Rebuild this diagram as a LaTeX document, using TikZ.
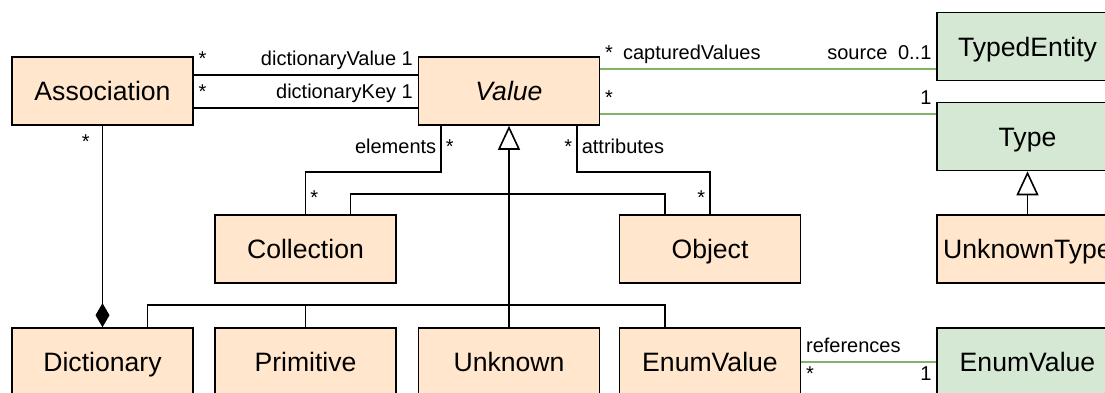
\documentclass[tikz,border=0pt]{standalone}
\usepackage{fontspec}
\setmainfont{Liberation Sans}
\usetikzlibrary{arrows.meta,calc}
\definecolor{class-fill}{HTML}{FFE6CC}
\definecolor{ext-fill}{HTML}{D5E8D4}
\definecolor{ext-line}{HTML}{82B366}
\tikzset{
    class-box/.style = {draw=black, fill=class-fill, line width=0.8pt, rectangle, minimum width=90.5pt, minimum height=34pt, inner sep=0pt, text height=9.6pt, text depth=0pt, font=\fontsize{13.3}{16}\selectfont},
    ext-box/.style = {class-box, fill=ext-fill},
    assoc-line/.style = {draw=black, line width=0.8pt},
    ext-assoc-line/.style = {draw=ext-line, line width=0.8pt},
    gen-line/.style = {assoc-line, -{Triangle[open, length=12pt, width=11pt]}},
    comp-line/.style = {assoc-line, -{Diamond[length=12pt, width=7pt]}},
    role-label/.style = {font=\fontsize{10}{12}\selectfont, inner sep=2pt, text depth=0.25em},
}

\begin{document}
\begin{tikzpicture}[x=0.5pt, y=-0.5pt]
\useasboundingbox (0,0) rectangle (1105,392);
\clip (0,0) rectangle (1105,392);
\fill[white] (0,0) rectangle (1105,392);

\node[class-box] (association) at (102.5,91) {Association};
\node[class-box] (value) at (509,91) {\itshape Value};
\node[ext-box] (typed-entity) at (1027.5,46.5) {TypedEntity};
\node[ext-box] (type) at (1027.5,136.5) {Type};
\node[class-box] (collection) at (305.5,249) {Collection};
\node[class-box] (object) at (710,249) {Object};
\node[class-box] (unknown-type) at (1027.5,249) {UnknownType};
\node[class-box] (dictionary) at (102.5,362) {Dictionary};
\node[class-box] (primitive) at (305.5,362) {Primitive};
\node[class-box] (unknown) at (509,362) {Unknown};
\node[class-box] (enum-value) at (710,362) {EnumValue};
\node[ext-box] (enum-value-ext) at (1027.5,362) {EnumValue};

\draw[assoc-line] ($(association.east)+(0,-16)$) -- node[role-label, pos=0, anchor=south west]{*} node[role-label, pos=1, anchor=south east]{dictionaryValue 1} ($(value.west)+(0,-16)$);
\draw[assoc-line] ($(association.east)+(0,17)$) -- node[role-label, pos=0, anchor=south west]{*} node[role-label, pos=1, anchor=south east]{dictionaryKey 1} ($(value.west)+(0,17)$);

\coordinate (captured) at ($(value.east)+(0,-22)$);
\coordinate (typed) at ($(value.east)+(0,23)$);
\draw[ext-assoc-line] (captured) -- node[role-label, pos=0, anchor=south west]{*} node[role-label, pos=0, anchor=south west, xshift=9pt]{capturedValues} node[role-label, pos=1, anchor=south east, xshift=-22pt]{source} node[role-label, pos=1, anchor=south east]{0..1} (captured -| typed-entity.west);
\draw[ext-assoc-line] (typed) -- node[role-label, pos=0, anchor=south west]{*} node[role-label, pos=1, anchor=south east]{1} (typed -| type.west);

\draw[assoc-line] ($(value.south)+(-68,0)$) -- node[role-label, anchor=east]{elements} node[role-label, anchor=west]{*} ++(0,46) -| node[role-label, pos=1, anchor=south west]{*} (collection.north);
\draw[assoc-line] ($(value.south)+(68,0)$) -- node[role-label, anchor=east]{*} node[role-label, anchor=west]{attributes} ++(0,46) -| node[role-label, pos=1, anchor=south east]{*} (object.north);

\draw[gen-line] (unknown.north) -- (value.south);
\coordinate (gen-upper) at ($(value.south)+(0,68)$);
\coordinate (gen-lower) at ($(unknown.north)+(0,-22)$);
\draw[assoc-line] ($(collection.north)+(45,0)$) |- (gen-upper) -| ($(object.north)+(-45,0)$);
\draw[assoc-line] ($(dictionary.north)+(45,0)$) |- (gen-lower) -| ($(enum-value.north)+(-45,0)$);
\draw[assoc-line] (primitive.north) -- (primitive.north |- gen-lower);

\draw[comp-line] (association.south) -- node[role-label, pos=0, anchor=north east, xshift=-4pt, yshift=-2pt]{*} (dictionary.north);
\draw[gen-line] (unknown-type.north) -- (type.south);

\draw[ext-assoc-line] (enum-value.east) -- node[role-label, pos=0, anchor=south west]{references} node[role-label, pos=0, anchor=north west]{*} node[role-label, pos=1, anchor=north east]{1} (enum-value-ext.west);
\end{tikzpicture}
\end{document}
